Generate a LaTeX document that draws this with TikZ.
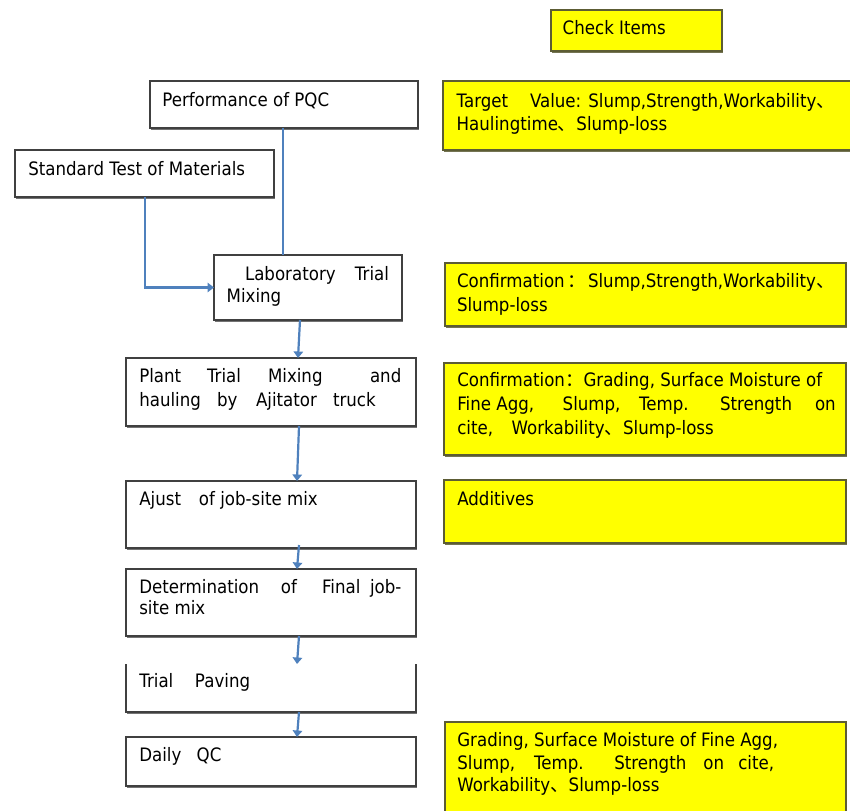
\documentclass[tikz,border=0pt]{standalone}
\usepackage{fontspec}
\setmainfont{DejaVu Sans}[FakeStretch=0.9]
\newfontfamily\cjkfont{Noto Sans CJK SC}
\usetikzlibrary{arrows.meta,shadows}

% ideographic comma and full-width colon
\newcommand\dun{{\cjkfont 、}}
\newcommand\fcolon{{\cjkfont ：}}
% a word set in a slot of fixed width (pt)
\newcommand\wslot[2]{\makebox[#1pt][l]{#2}}

\definecolor{linkblue}{RGB}{79,129,189}
\definecolor{framegray}{RGB}{64,64,64}
\definecolor{chkedge}{RGB}{92,92,52}
\definecolor{chkfill}{RGB}{255,255,0}

\begin{document}
\begin{tikzpicture}[x=1pt,y=-1pt,
  every node/.style={inner sep=0pt,outer sep=0pt},
  flowbox/.style={draw=framegray,line width=1.2pt,fill=white,anchor=north west,
    drop shadow={shadow xshift=1.2pt,shadow yshift=-1.6pt,fill=black!55,opacity=1}},
  chkbox/.style={draw=chkedge,line width=1.2pt,fill=chkfill,anchor=north west,
    drop shadow={shadow xshift=1.2pt,shadow yshift=-1.6pt,fill=chkedge!85,opacity=1}},
  txt/.style={anchor=base west,font=\fontsize{18.5}{23.5}\selectfont,align=left},
  % several lines: the node's top is the first line's strut top
  mtxt/.style={anchor=north west,align=left,font=\fontsize{18.5}{#1}\selectfont},
  link/.style={draw=linkblue,line width=2.2pt},
  flow/.style={link,-{Triangle[width=9.5pt,length=6.5pt]}}]

\useasboundingbox (0,0) rectangle (850,810);

% ---- process boxes (left column)
\node[flowbox,minimum width=268pt,minimum height=47pt] (pqc)   at (150,81)  {};
\node[flowbox,minimum width=259pt,minimum height=47pt] (std)   at (15,150)  {};
\node[flowbox,minimum width=188pt,minimum height=65pt] (lab)   at (214,255) {};
\node[flowbox,minimum width=290pt,minimum height=68pt] (plant) at (126,358) {};
\node[flowbox,minimum width=290pt,minimum height=67pt] (ajust) at (126,481) {};
\node[flowbox,minimum width=290pt,minimum height=67pt] (det)   at (126,569) {};
\node[flowbox,draw=none,minimum width=290pt,minimum height=48pt] (trial) at (126,664) {};
\draw[framegray,line width=1.2pt] (trial.north west) -- (trial.south west)
  -- (trial.south east) -- (trial.north east);
\node[flowbox,minimum width=290pt,minimum height=49pt] (daily) at (126,737) {};

% ---- check item boxes (right column)
\node[chkbox,minimum width=171pt,minimum height=41pt] (check) at (551,10)  {};
\node[chkbox,minimum width=410pt,minimum height=69pt] (ck1)   at (443,81)  {};
\node[chkbox,minimum width=401pt,minimum height=63pt] (ck2)   at (445,263) {};
\node[chkbox,minimum width=402pt,minimum height=92pt] (ck3)   at (444,363) {};
\node[chkbox,minimum width=402pt,minimum height=63pt] (ck4)   at (444,480) {};
\node[chkbox,minimum width=401pt,minimum height=95pt] (ck5)   at (445,722) {};

% ---- texts of the process boxes
\node[txt] (pqc-t) at (162.3,106.7) {Performance of PQC};
\node[txt] (std-t) at (28.3,176) {Standard Test of Materials};
\node[mtxt=22] (lab-t) at (226.7,265.3)
  {\strut\makebox[162.3pt][l]{\hspace*{18.3pt}Laboratory\hfill Trial}\\Mixing};
\node[mtxt=23.3] (plant-t) at (139.3,366.4)
  {\strut\wslot{67.7}{Plant}\wslot{61}{Trial}\wslot{102}{Mixing}and\\
   \wslot{77.7}{hauling}\wslot{39}{by}\wslot{77}{Ajitator}truck};
\node[txt] (ajust-t) at (139.3,505.7) {\wslot{59.7}{Ajust}of job-site mix};
\node[mtxt=21.7] (det-t) at (139.3,578.1)
  {\strut\wslot{141.7}{Determination}\wslot{41}{of}\wslot{48}{Final}job-\\site mix};
\node[txt] (trial-t) at (139.3,687.3) {\wslot{55.7}{Trial}Paving};
\node[txt] (daily-t) at (139.3,761.7) {\wslot{57.4}{Daily}QC};

% ---- texts of the check item boxes
\node[txt] (check-t) at (562.7,34.3) {Check Items};
\node[mtxt=23.4] (ck1-t) at (456.7,90.9)
  {\strut\wslot{73.3}{Target}Value: Slump,Strength,Workability\dun\\
   Haulingtime\dun Slump-loss};
\node[mtxt=24.4] (ck2-t) at (457,270.2)
  {\strut\wslot{110}{Confirmation}\wslot{21}{\fcolon}Slump,Strength,Workability\dun\\Slump-loss};
\node[mtxt=23.7] (ck3-t) at (457.3,370.1)
  {\strut Confirmation\fcolon Grading, Surface Moisture of\\
   \wslot{105.4}{Fine Agg,}\wslot{76.3}{Slump,}\wslot{81}{Temp.}\wslot{95}{Strength}on\\
   \wslot{54.4}{cite,}Workability\dun Slump-loss};
\node[txt] (ck4-t) at (457.3,505) {Additives};
\node[mtxt=22.5] (ck5-t) at (457.3,730.9)
  {\strut Grading, Surface Moisture of Fine Agg,\\
   \wslot{76.7}{Slump,}\wslot{80.3}{Temp.}\wslot{89}{Strength}\wslot{35}{on}cite,\\
   Workability\dun Slump-loss};

% ---- connectors
\draw[link] ([xshift=133pt]pqc.south west) -- ([xshift=69pt]lab.north west);
\draw[flow] ([xshift=130pt]std.south west) |- (lab.west);
\draw[flow] ([xshift=86pt]lab.south west) -- ([xshift=172pt]plant.north west);
\draw[flow] ([xshift=173pt]plant.south west) -- ([xshift=171pt]ajust.north west);
\draw[flow] ([xshift=173pt,yshift=3pt]ajust.south west) -- ([xshift=171pt]det.north west);
\draw[flow] ([xshift=173pt]det.south west) -- ([xshift=171pt]trial.north west);
\draw[flow] ([xshift=173pt]trial.south west) -- ([xshift=171pt]daily.north west);
\end{tikzpicture}
\end{document}
